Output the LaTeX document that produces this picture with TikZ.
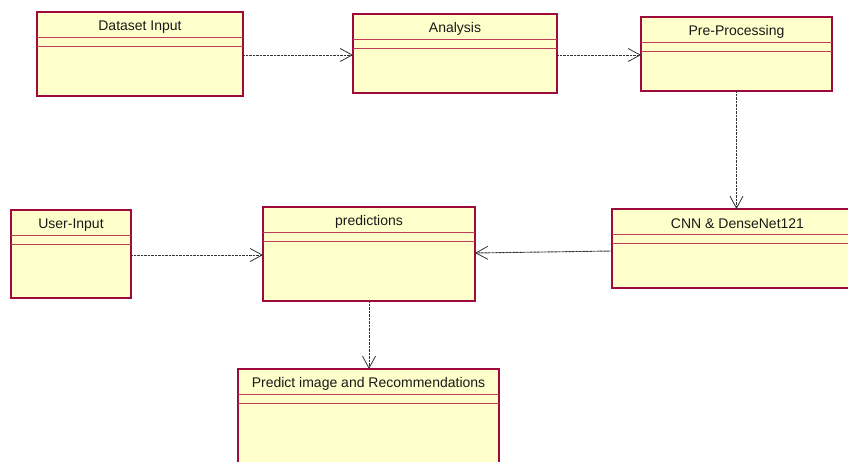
\documentclass[tikz,border=0pt]{standalone}
\usepackage{fontspec}
\setmainfont{Liberation Sans}
\usetikzlibrary{arrows.meta,calc,fit}

\definecolor{umlred}{RGB}{158,10,60}
\definecolor{umldiv}{RGB}{190,60,90}
\definecolor{umlfill}{RGB}{255,255,204}
\definecolor{linkgray}{RGB}{50,50,50}

\tikzset{
  ubox/.style={draw=umlred, fill=umlfill, line width=1.3pt, inner sep=0pt, outer sep=0pt},
  utitle/.style={inner sep=0pt, text=black!90, font=\fontsize{14}{16}\selectfont},
  udiv/.style={draw=umldiv, line width=1pt},
  link/.style={draw=linkgray, line width=0.9pt, dash pattern=on 1pt off 0.4pt,
    -{Straight Barb[length=12pt,width=13pt,line width=0.8pt]}},
}

% class box: name, north-west corner, south-east corner, title
\newcommand\umlclass[4]{%
  \node[ubox, fit={#2 #3}] (#1) {};
  \node[utitle] (#1-title) at ($(#1.north)+(0,15)$) {#4};
  \draw[udiv] ($(#1.north west)+(0,25)$) -- ($(#1.north east)+(0,25)$);
  \draw[udiv] ($(#1.north west)+(0,34.5)$) -- ($(#1.north east)+(0,34.5)$);
}

\begin{document}
\begin{tikzpicture}[x=1pt,y=-1pt]
  \useasboundingbox (0,0) rectangle (848,461);
  \clip (0,0) rectangle (848,461);
  \fill[white] (0,0) rectangle (848,461);

  \umlclass{dataset}{(37,12)}{(243,96)}{Dataset Input}
  \umlclass{analysis}{(353,14)}{(557,93)}{Analysis}
  \umlclass{prep}{(641,17)}{(832,91)}{Pre-Processing}
  \umlclass{cnn}{(612,209)}{(863,288)}{CNN \& DenseNet121}
  \umlclass{user}{(11,210)}{(131,298)}{User-Input}
  \umlclass{pred}{(263,207)}{(475,301)}{predictions}
  \umlclass{result}{(238,369)}{(499,480)}{Predict image and Recommendations}

  \draw[link] ([yshift=-1pt]dataset.east) -- ([yshift=-1.5pt]analysis.west);
  \draw[link] ([yshift=-1.5pt]analysis.east) -- ([yshift=-1pt]prep.west);
  \draw[link] (prep.south) -- (prep.south |- cnn.north);
  \draw[link] ([yshift=-2.5pt]cnn.west) -- ([yshift=1pt]pred.east);
  \draw[link] ([yshift=-1pt]user.east) -- ([yshift=-1pt]pred.west);
  \draw[link] (pred.south) -- (pred.south |- result.north);
\end{tikzpicture}
\end{document}
